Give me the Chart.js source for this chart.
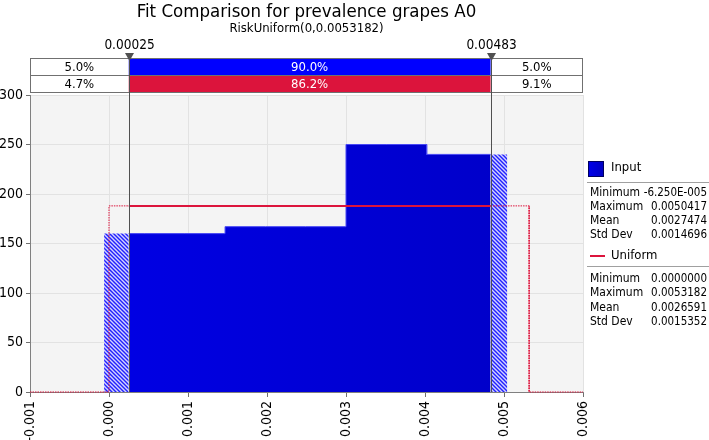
<!DOCTYPE html>
<html>
<head>
<meta charset="utf-8">
<script src="https://cdn.jsdelivr.net/npm/chart.js@4.4.1/dist/chart.umd.min.js"></script>
<style>
  html, body { margin: 0; padding: 0; background: #fff; }
  #wrap { width: 709px; height: 440px; }
</style>
</head>
<body>
<div id="wrap"><canvas id="fit-chart" width="709" height="440"></canvas></div>
<script>
// ========== Data ==========

const chartTitle = 'Fit Comparison for prevalence grapes A0';
const chartSubtitle = 'RiskUniform(0,0.0053182)';

// input histogram (density per bin)
const binEdges = [-0.0000625, 0.000448, 0.000959, 0.001469, 0.00198, 0.00249, 0.003, 0.003511, 0.004021, 0.004531, 0.0050417];
const binHeights = [160, 160, 160, 167, 167, 167, 250, 250, 240, 240];

// fitted uniform
const uniformMin = 0;
const uniformMax = 0.0053182;
const uniformDensity = 188;

// delimiters and the probability bars above the plot
const markerValues = [0.00025, 0.00483];
const markerLabels = ['0.00025', '0.00483'];
const inputPercents = ['5.0%', '90.0%', '5.0%'];
const uniformPercents = ['4.7%', '86.2%', '9.1%'];

// stats panel
const statNames = ['Minimum', 'Maximum', 'Mean', 'Std Dev'];
const inputStats = ['-6.250E-005', '0.0050417', '0.0027474', '0.0014696'];
const uniformStats = ['0.0000000', '0.0053182', '0.0026591', '0.0015352'];

// axes
const xMin = -0.001, xMax = 0.006, xStep = 0.001;
const yMin = 0, yMax = 300, yStep = 50;

// ========== Styles ==========

const FONT = '"DejaVu Sans Condensed", "DejaVu Sans", sans-serif';
const BLUE = '#0000ff';
const RED = '#dc143c';
const DARK = '#505050';

// ========== Helpers ==========

function histPoints(lo, hi) {
  const pts = [];
  for (let i = 0; i < binHeights.length; i++) {
    const a = Math.max(binEdges[i], lo);
    const b = Math.min(binEdges[i + 1], hi);
    if (b <= a) continue;
    pts.push({ x: a, y: binHeights[i] }, { x: b, y: binHeights[i] });
  }
  return pts;
}

const canvas = document.getElementById('fit-chart');
const ctx = canvas.getContext('2d');

function makeHatch() {
  const c = document.createElement('canvas');
  c.width = 4; c.height = 4;
  const g = c.getContext('2d');
  g.fillStyle = '#d4d4ff';
  g.fillRect(0, 0, 4, 4);
  g.strokeStyle = '#2020ff';
  g.lineWidth = 1.4;
  g.beginPath();
  g.moveTo(-1, -1); g.lineTo(5, 5);
  g.moveTo(-1, 3); g.lineTo(1, 5);
  g.moveTo(3, -1); g.lineTo(5, 1);
  g.stroke();
  return ctx.createPattern(c, 'repeat');
}
const hatch = makeHatch();

function blueGradient(context) {
  const area = context.chart.chartArea;
  if (!area) return '#0000dd';
  const g = context.chart.ctx.createLinearGradient(area.left, 0, area.right, 0);
  g.addColorStop(0, '#0000ea');
  g.addColorStop(1, '#0000c4');
  return g;
}

const uniformPoints = [
  { x: xMin, y: 0 }, { x: uniformMin, y: 0 }, { x: uniformMin, y: uniformDensity },
  { x: markerValues[0], y: uniformDensity }, { x: markerValues[1], y: uniformDensity },
  { x: uniformMax, y: uniformDensity }, { x: uniformMax, y: 0 }, { x: xMax, y: 0 },
];

function insideMarkers(c) {
  return c.p0.parsed.x >= markerValues[0] - 1e-12 && c.p1.parsed.x <= markerValues[1] + 1e-12;
}

// ========== Overlay plugin ==========

function text(c, str, x, y, font, color, align) {
  c.font = font;
  c.fillStyle = color;
  c.textAlign = align || 'center';
  c.textBaseline = 'middle';
  c.fillText(str, x, y);
}

const fitOverlay = {
  id: 'fitOverlay',
  beforeDraw(chart) {
    const { ctx: c, chartArea: a } = chart;
    c.save();
    c.fillStyle = '#f4f4f4';
    c.fillRect(a.left, a.top, a.right - a.left, a.bottom - a.top);
    c.restore();
  },
  afterDatasetsDraw(chart) {
    const { ctx: c, chartArea: a } = chart;
    const xs = chart.scales.x;
    const m0 = xs.getPixelForValue(markerValues[0]);
    const m1 = xs.getPixelForValue(markerValues[1]);
    const cx = (a.left + a.right) / 2;
    c.save();

    // titles
    text(c, chartTitle, cx, 12, '18.5px ' + FONT, '#000');
    text(c, chartSubtitle, cx, 29, '13px ' + FONT, '#000');

    // probability bars
    const rows = [
      { y: 58, vals: inputPercents, color: BLUE },
      { y: 75, vals: uniformPercents, color: RED },
    ];
    const rowH = 17;
    rows.forEach(r => {
      c.fillStyle = '#fff';
      c.fillRect(a.left, r.y, a.right - a.left, rowH);
      c.fillStyle = r.color;
      c.fillRect(m0, r.y, m1 - m0, rowH);
      c.strokeStyle = '#707070';
      c.lineWidth = 1;
      c.strokeRect(Math.round(a.left) + 0.5, r.y + 0.5, Math.round(a.right - a.left) - 1, rowH);
      const centers = [(a.left + m0) / 2, (m0 + m1) / 2, (m1 + a.right) / 2];
      r.vals.forEach((v, i) => {
        text(c, v, centers[i], r.y + rowH / 2 + 1, '13px ' + FONT, i === 1 ? '#fff' : '#000');
      });
    });

    // delimiter lines, triangles and labels
    [m0, m1].forEach((m, i) => {
      const px = Math.round(m) + 0.5;
      c.strokeStyle = DARK;
      c.lineWidth = 1;
      c.beginPath();
      c.moveTo(px, 58);
      c.lineTo(px, a.bottom);
      c.stroke();
      c.fillStyle = DARK;
      c.beginPath();
      c.moveTo(px - 4.5, 53);
      c.lineTo(px + 4.5, 53);
      c.lineTo(px, 61);
      c.closePath();
      c.fill();
      text(c, markerLabels[i], px, 45, '13.5px ' + FONT, '#000');
    });

    // stats panel
    const px0 = 587, valX = 707;
    const sq = c.createLinearGradient(588, 0, 603, 0);
    sq.addColorStop(0, '#0000ea');
    sq.addColorStop(1, '#0000c4');
    c.fillStyle = sq;
    c.fillRect(588, 161, 15, 15);
    c.strokeStyle = '#000060';
    c.strokeRect(588.5, 161.5, 15, 15);
    text(c, 'Input', 611, 168, '13px ' + FONT, '#000', 'left');
    c.strokeStyle = '#a0a0a0';
    c.beginPath(); c.moveTo(px0, 182.5); c.lineTo(709, 182.5); c.stroke();
    statNames.forEach((n, i) => {
      const y = 193 + i * 14;
      text(c, n, 590, y, '12px ' + FONT, '#000', 'left');
      text(c, inputStats[i], valX, y, '11.5px ' + FONT, '#000', 'right');
    });

    c.strokeStyle = RED;
    c.lineWidth = 2;
    c.beginPath(); c.moveTo(590, 256); c.lineTo(605, 256); c.stroke();
    text(c, 'Uniform', 611, 256, '13px ' + FONT, '#000', 'left');
    c.strokeStyle = '#a0a0a0';
    c.lineWidth = 1;
    c.beginPath(); c.moveTo(px0, 266.5); c.lineTo(709, 266.5); c.stroke();
    statNames.forEach((n, i) => {
      const y = 279 + i * 14.3;
      text(c, n, 590, y, '12px ' + FONT, '#000', 'left');
      text(c, uniformStats[i], valX, y, '11.5px ' + FONT, '#000', 'right');
    });

    c.restore();
  },
};

// ========== Chart ==========

new Chart(ctx, {
  type: 'scatter',
  data: {
    datasets: [
      {
        label: 'Uniform',
        data: uniformPoints,
        showLine: true,
        pointRadius: 0,
        borderColor: RED,
        borderWidth: 1,
        fill: false,
        order: 0,
        clip: 3,
        segment: {
          borderWidth: c => insideMarkers(c) ? 2 : 1,
          borderDash: c => insideMarkers(c) ? [] : [1.5, 1],
        },
      },
      {
        label: 'Input',
        data: histPoints(markerValues[0], markerValues[1]),
        showLine: true,
        pointRadius: 0,
        borderColor: '#4848f4',
        borderWidth: 1,
        fill: 'origin',
        backgroundColor: blueGradient,
        order: 2,
      },
      {
        label: 'Input low tail',
        data: histPoints(binEdges[0], markerValues[0]),
        showLine: true,
        pointRadius: 0,
        borderColor: 'rgba(0,0,0,0)',
        borderWidth: 1,
        fill: 'origin',
        backgroundColor: hatch,
        order: 1,
      },
      {
        label: 'Input high tail',
        data: histPoints(markerValues[1], binEdges[binEdges.length - 1]),
        showLine: true,
        pointRadius: 0,
        borderColor: 'rgba(0,0,0,0)',
        borderWidth: 1,
        fill: 'origin',
        backgroundColor: hatch,
        order: 1,
      },
    ],
  },
  options: {
    responsive: false,
    animation: false,
    layout: { padding: { top: 95, right: 126, left: 0, bottom: 0 } },
    plugins: { legend: { display: false }, tooltip: { enabled: false } },
    scales: {
      x: {
        type: 'linear',
        min: xMin,
        max: xMax,
        ticks: {
          stepSize: xStep,
          autoSkip: false,
          maxRotation: 90,
          minRotation: 90,
          padding: 4,
          color: '#000',
          font: { family: FONT, size: 14 },
          callback: v => (Math.abs(v) < 1e-12 ? 0 : v).toFixed(3),
        },
        grid: { color: '#e2e2e2', tickColor: '#707070', tickLength: 5 },
        border: { color: '#808080' },
        afterFit(scale) { scale.height = 48; },
      },
      y: {
        min: yMin,
        max: yMax,
        ticks: {
          stepSize: yStep,
          padding: 3,
          color: '#000',
          font: { family: FONT, size: 14 },
        },
        grid: { color: '#e2e2e2', tickColor: '#707070', tickLength: 4 },
        border: { color: '#808080' },
        afterFit(scale) { scale.width = 30; },
      },
    },
  },
  plugins: [fitOverlay],
});
</script>
</body>
</html>
